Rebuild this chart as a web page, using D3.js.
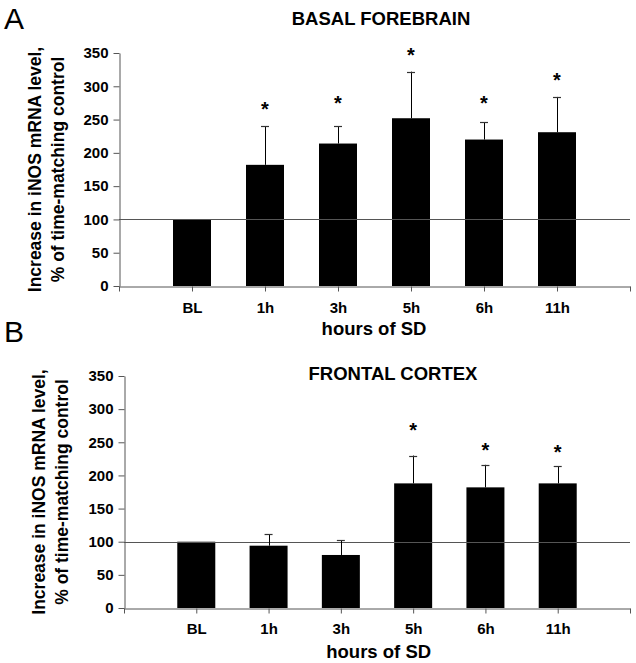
<!DOCTYPE html>
<html>
<head>
<meta charset="utf-8">
<script src="https://cdn.jsdelivr.net/npm/d3@7"></script>
<style>
  html, body { margin: 0; padding: 0; background: #fff; }
  svg { display: block; font-family: "Liberation Sans", Arial, Helvetica, sans-serif; }
</style>
</head>
<body>
<svg id="chart" width="636" height="663"></svg>
<script>
// ---- data ----
const categories = ["BL", "1h", "3h", "5h", "6h", "11h"];
const yTicks = [0, 50, 100, 150, 200, 250, 300, 350];

const basalMean = [100, 182, 214, 252, 220, 231];
const basalErr  = [0, 58, 26, 70, 26, 53];
const basalStar = [null, 270, 279, 351, 279, 314];

const frontalMean = [100, 94, 80, 188, 182, 188];
const frontalErr  = [0, 17, 22, 42, 34, 26];
const frontalStar = [null, null, null, 273, 243, 240];

const yLabelLines = ["Increase in iNOS mRNA level,", "% of time-matching control"];
const xTitle = "hours of SD";

// ---- layout ----
const panels = [
  { letter: "A", title: "BASAL FOREBRAIN", mean: basalMean, err: basalErr, star: basalStar,
    left: 119, right: 630, top: 53, bottom: 286,
    letterPos: [4, 29], letterSize: 30,
    titlePos: [381, 24.5], xTitlePos: [374, 335], xLabPad: 11,
    yLabX: [40.7, 64.3] },
  { letter: "B", title: "FRONTAL CORTEX", mean: frontalMean, err: frontalErr, star: frontalStar,
    left: 124, right: 630, top: 376, bottom: 608,
    letterPos: [4, 341.5], letterSize: 30,
    titlePos: [393, 379.5], xTitlePos: [378.7, 657.7], xLabPad: 10,
    yLabX: [45, 68] }
];

const svg = d3.select("#chart");
const axisColor = "#555";

panels.forEach(p => {
  const g = svg.append("g");
  const x = d3.scaleLinear().domain([0, categories.length + 1]).range([p.left, p.right]);
  const y = d3.scaleLinear().domain([0, 350]).range([p.bottom, p.top]);
  const barW = 38;

  // panel letter
  g.append("text").attr("x", p.letterPos[0]).attr("y", p.letterPos[1])
    .attr("font-size", p.letterSize).attr("fill", "#000").text(p.letter);

  // title
  g.append("text").attr("x", p.titlePos[0]).attr("y", p.titlePos[1])
    .attr("text-anchor", "middle").attr("font-size", 18.5).attr("font-weight", "bold")
    .text(p.title);

  // bars
  const data = categories.map((c, i) => ({ c, i, m: p.mean[i], e: p.err[i], s: p.star[i] }));
  g.selectAll("rect.bar").data(data).enter().append("rect")
    .attr("class", "bar")
    .attr("x", d => x(d.i + 1) - barW / 2)
    .attr("width", barW)
    .attr("y", d => y(d.m))
    .attr("height", d => y(0) - y(d.m))
    .attr("fill", "#000");

  // reference line at 100
  g.append("line")
    .attr("x1", x(0)).attr("x2", x(categories.length + 1))
    .attr("y1", Math.round(y(100)) + 0.5).attr("y2", Math.round(y(100)) + 0.5)
    .attr("stroke", axisColor).attr("stroke-width", 1);

  // error bars (upward only)
  const eb = data.filter(d => d.e > 0);
  g.selectAll("line.err").data(eb).enter().append("line")
    .attr("x1", d => Math.round(x(d.i + 1)) + 0.5).attr("x2", d => Math.round(x(d.i + 1)) + 0.5)
    .attr("y1", d => y(d.m)).attr("y2", d => y(d.m + d.e))
    .attr("stroke", "#000").attr("stroke-width", 1);
  g.selectAll("line.cap").data(eb).enter().append("line")
    .attr("x1", d => x(d.i + 1) - 4).attr("x2", d => x(d.i + 1) + 4)
    .attr("y1", d => Math.round(y(d.m + d.e)) + 0.5).attr("y2", d => Math.round(y(d.m + d.e)) + 0.5)
    .attr("stroke", "#333").attr("stroke-width", 1.2);

  // significance stars
  g.selectAll("text.star").data(data.filter(d => d.s != null)).enter().append("text")
    .attr("x", d => x(d.i + 1)).attr("y", d => y(d.s) + 10)
    .attr("text-anchor", "middle").attr("font-size", 20).attr("font-weight", "bold")
    .text("*");

  // y axis
  const yAxis = d3.axisLeft(y).tickValues(yTicks).tickSize(6).tickPadding(5).tickSizeOuter(0);
  const ya = g.append("g").attr("transform", `translate(${p.left + 0.5},0)`).call(yAxis);
  ya.select(".domain").attr("stroke", axisColor);
  ya.selectAll(".tick line").attr("stroke", axisColor);
  ya.selectAll(".tick text").attr("font-size", 15).attr("font-weight", "bold")
    .attr("fill", "#000").attr("font-family", "Liberation Sans, Arial, sans-serif");

  // x axis
  const xAxis = d3.axisBottom(x).tickValues(d3.range(categories.length + 2))
    .tickFormat(i => categories[i - 1] || "").tickSize(5).tickPadding(p.xLabPad).tickSizeOuter(0);
  const xa = g.append("g").attr("transform", `translate(0,${Math.round(p.bottom) + 0.5})`).call(xAxis);
  xa.select(".domain").attr("stroke", axisColor);
  xa.selectAll(".tick line").attr("stroke", axisColor);
  xa.selectAll(".tick text").attr("font-size", 15).attr("font-weight", "bold")
    .attr("fill", "#000").attr("font-family", "Liberation Sans, Arial, sans-serif");

  // x title
  g.append("text").attr("x", p.xTitlePos[0]).attr("y", p.xTitlePos[1])
    .attr("text-anchor", "middle").attr("font-size", 18.5).attr("font-weight", "bold")
    .text(xTitle);

  // y label (two lines)
  const cy = (p.top + p.bottom) / 2;
  yLabelLines.forEach((t, k) => {
    g.append("text")
      .attr("transform", `translate(${p.yLabX[k]},${cy}) rotate(-90)`)
      .attr("text-anchor", "middle").attr("font-size", 17.5).attr("font-weight", "bold")
      .text(t);
  });
});
</script>
</body>
</html>
